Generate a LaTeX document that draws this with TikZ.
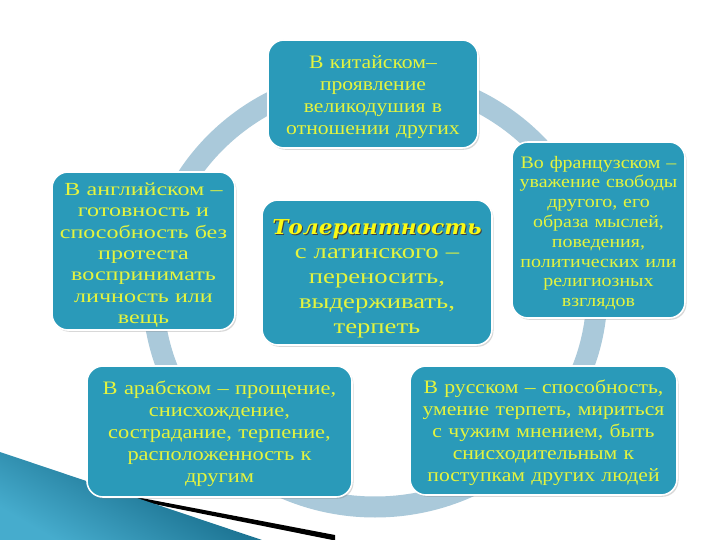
\documentclass[tikz,border=0pt]{standalone}
\usepackage{fontspec}
\setmainfont{Liberation Serif}
\newfontfamily\fsA{Liberation Serif}[FakeStretch=1.14]
\newfontfamily\fsB{Liberation Serif}[FakeStretch=1.18]
\newfontfamily\fsC{Liberation Serif}[FakeStretch=1.27]
\newfontfamily\fsD{Liberation Serif}[FakeStretch=1.3]
\newfontfamily\titlefont{DejaVu Serif}[FakeStretch=1.06]
\usetikzlibrary{shadows}
\definecolor{boxc}{RGB}{42,154,185}
\definecolor{ringc}{RGB}{170,201,218}
\definecolor{txtc}{RGB}{228,244,62}
\definecolor{ttlc}{RGB}{250,250,20}
\definecolor{tealdark}{RGB}{8,88,118}
\definecolor{teallight}{RGB}{70,172,205}
\newcommand\shtext[1]{\makebox[0pt][l]{\hspace{1pt}\raisebox{-1pt}{\color{black!75}#1}}#1}
\tikzset{
  box/.style={draw=white, line width=1.6pt, fill=boxc, rounded corners=16pt,
    inner sep=0pt,
    drop shadow={opacity=0.3, shadow xshift=1.5pt, shadow yshift=-1.8pt}},
  txt/.style={text=txtc, align=center, inner sep=0pt},
}
\begin{document}
\begin{tikzpicture}[x=1pt,y=-1pt]
\useasboundingbox (0,0) rectangle (720,540);
\fill[white] (0,0) rectangle (720,540);
% decoration bottom-left
\fill[black] (0,471) -- (335,535) -- (335,540.5) -- (0,473) -- cycle;
\shade[top color=tealdark, bottom color=teallight, shading angle=-30]
  (0,452) -- (262,540) -- (0,540) -- cycle;
% ring
\draw[ringc, line width=21pt] (375,292) ellipse [x radius=222, y radius=215];
% boxes
\node[box, minimum width=210, minimum height=108] (top) at (373,94) {};
\node[txt, text width=204, font=\fsA\fontsize{19}{22}\selectfont] (topt) at (373,97)
  {В китайском–\\проявление\\великодушия в\\отношении других};
\node[box, minimum width=183, minimum height=158] (eng) at (143.5,251) {};
\node[txt, text width=180, font=\fsD\fontsize{18.5}{21.3}\selectfont] (engt) at (143.5,255)
  {В английском –\\готовность и\\способность без\\протеста\\воспринимать\\личность или\\вещь};
\node[box, minimum width=230, minimum height=145] (tol) at (377,272.5) {};
\node[txt, text width=226, font=\fsC\fontsize{21}{24.8}\selectfont] (tolt) at (377,278.5)
  {{\titlefont\bfseries\itshape\fontsize{20.5}{24}\selectfont\color{ttlc}\shtext{Толерантность}}\\с латинского –\\переносить,\\выдерживать,\\терпеть};
\node[box, minimum width=173, minimum height=176] (fra) at (598.5,230) {};
\node[txt, text width=170, font=\fsA\fontsize{17.5}{19.8}\selectfont] (frat) at (598.5,233)
  {Во французском –\\уважение свободы\\другого, его\\образа мыслей,\\поведения,\\политических или\\религиозных\\взглядов};
\node[box, minimum width=265, minimum height=131] (ara) at (219.5,431.5) {};
\node[txt, text width=260, font=\fsB\fontsize{19}{22}\selectfont] (arat) at (219.5,434)
  {В арабском – прощение,\\снисхождение,\\сострадание, терпение,\\расположенность к\\другим};
\node[box, minimum width=267, minimum height=129] (rus) at (543.5,430.5) {};
\node[txt, text width=262, font=\fsA\fontsize{19}{22}\selectfont] (rust) at (543.5,432.5)
  {В русском – способность,\\умение терпеть, мириться\\с чужим мнением, быть\\снисходительным к\\поступкам других людей};
\end{tikzpicture}
\end{document}
